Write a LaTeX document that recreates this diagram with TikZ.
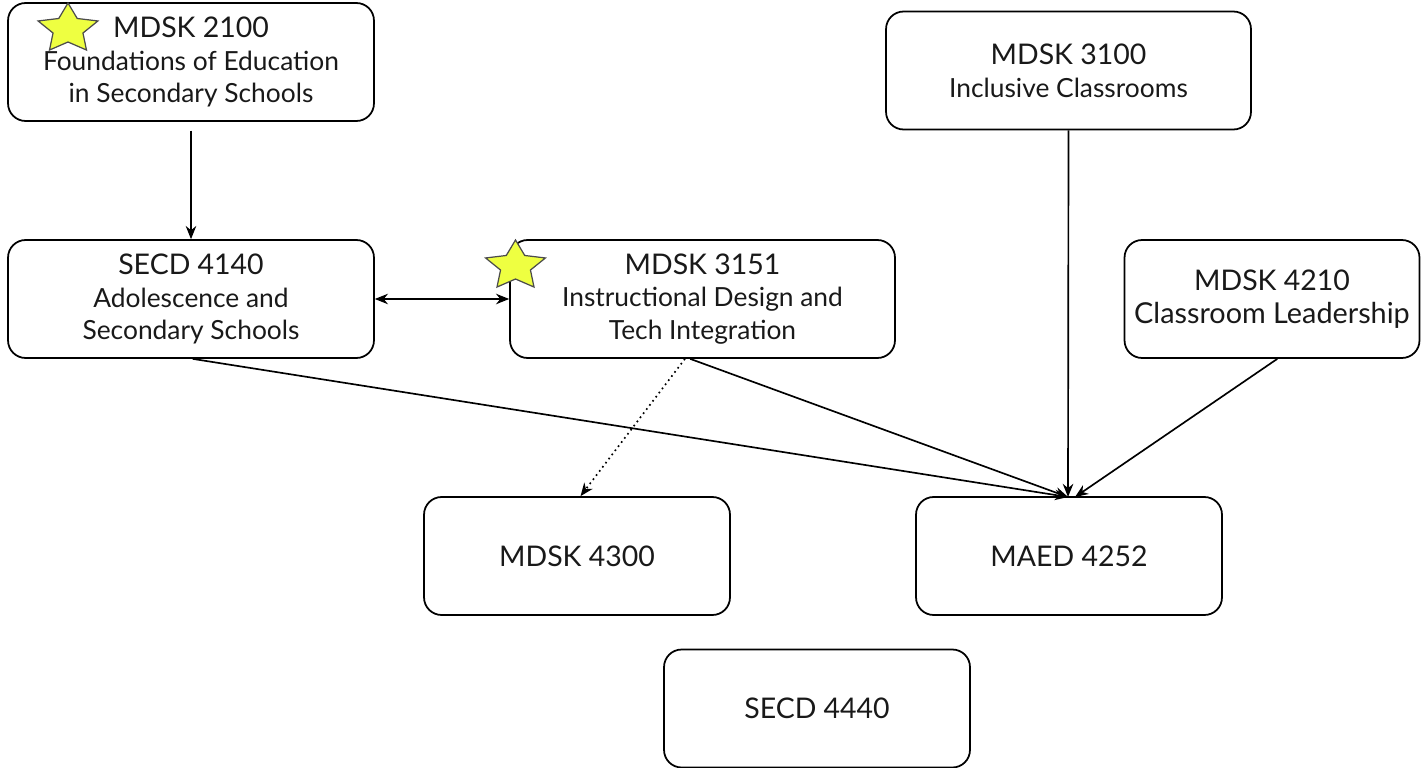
\documentclass[tikz,border=0pt]{standalone}
\usepackage{fontspec}
\setmainfont{Lato}
\usetikzlibrary{arrows.meta,shapes.geometric}
\definecolor{starfill}{RGB}{238,255,65}
\definecolor{textgray}{RGB}{25,25,25}
\newcommand{\cname}[1]{\fontsize{16.2}{18.7}\selectfont #1}
\newcommand{\ctitle}[2][15]{\fontsize{#1}{18.7}\selectfont #2}
\begin{document}
\begin{tikzpicture}[x=0.02cm,y=-0.02cm,
    coursebox/.style={draw, line width=1pt, rounded corners=10pt, align=center,
      text=textgray, inner sep=0pt, minimum height=2.36cm,
      font=\fontsize{15}{18.7}\selectfont},
    prereq/.style={line width=0.95pt, -{Stealth[length=7.5pt,width=6pt]}},
    twoway/.style={line width=0.95pt, {Stealth[length=7.5pt,width=6pt]}-{Stealth[length=7.5pt,width=6pt]}},
    optional/.style={prereq, dotted},
    marker/.style={star, star points=5, star point ratio=2, draw=black!70,
      fill=starfill, line width=0.7pt, minimum size=1.04cm, inner sep=0pt,
      transform shape}]
  \useasboundingbox (0,0) rectangle (1422,767);
  % Nodes
  \node[coursebox, minimum width=7.32cm] (mdskA) at (191,62) {\cname{MDSK 2100}\\\ctitle{Foundations of Education}\\\ctitle{in Secondary Schools}};
  \node[coursebox, minimum width=7.3cm] (mdskB) at (1068.5,70.5) {\cname{MDSK 3100}\\\ctitle{Inclusive Classrooms}};
  \node[coursebox, minimum width=7.32cm] (secdA) at (191,299) {\cname{SECD 4140}\\\ctitle{Adolescence and}\\\ctitle{Secondary Schools}};
  \node[coursebox, minimum width=7.7cm] (mdskC) at (702.5,299) {\cname{MDSK 3151}\\\ctitle{Instructional Design and}\\\ctitle{Tech Integration}};
  \node[coursebox, minimum width=5.9cm] (mdskD) at (1272,299) {\cname{MDSK 4210}\\\ctitle[16.4]{Classroom Leadership}};
  \node[coursebox, minimum width=6.12cm] (mdskE) at (577,556) {\cname{MDSK 4300}};
  \node[coursebox, minimum width=6.12cm] (maed) at (1069,556) {\cname{MAED 4252}};
  \node[coursebox, minimum width=6.12cm] (secdB) at (817,708.5) {\cname{SECD 4440}};
  \begin{scope}[shift={(68,29)}, xscale=1.21]
    \node[marker] (starA) at (0,0) {};
  \end{scope}
  \begin{scope}[shift={(515.5,266)}, xscale=1.21]
    \node[marker] (starB) at (0,0) {};
  \end{scope}
  \coordinate (hub) at (1068,497);

  % Arrows
  \draw[prereq] ([yshift=-5pt]mdskA.south) -- (secdA.north);
  \draw[twoway] (secdA.east) -- (mdskC.west);
  \draw[prereq] (mdskB.south) -- (hub);
  \draw[prereq] ([xshift=1pt]secdA.south) -- (hub);
  \draw[prereq] ([xshift=-7pt]mdskC.south) -- (hub);
  \draw[prereq] ([xshift=3pt]mdskD.south) -- ([xshift=4pt]hub);
  \draw[optional] ([xshift=-10pt]mdskC.south) -- ([xshift=2pt]mdskE.north);
\end{tikzpicture}
\end{document}
